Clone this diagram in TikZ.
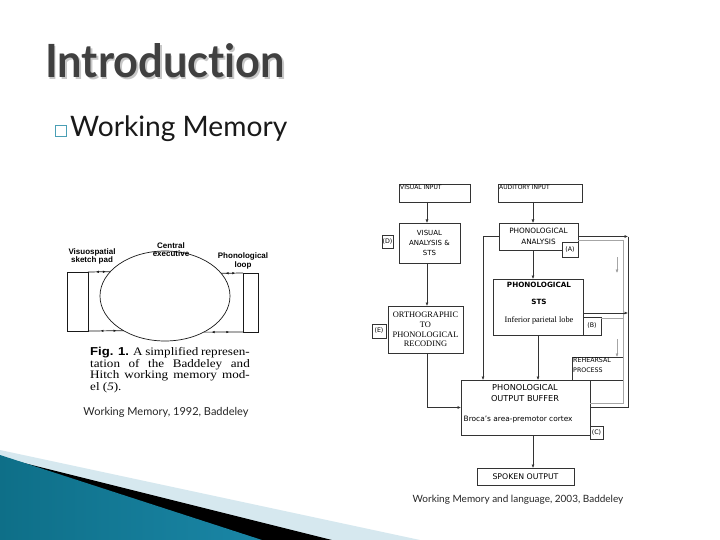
\documentclass[tikz,border=0pt]{standalone}
\usepackage{fontspec}
\usepackage{graphicx}
\usetikzlibrary{arrows.meta,shapes.geometric,decorations.markings}
\newfontfamily\lato{Lato}
\newfontfamily\latotitle{Lato}[Ligatures={NoCommon,NoDiscretionary,NoRare}]
\newfontfamily\dvs{DejaVu Sans}
\newfontfamily\lsans{Liberation Sans}
\newfontfamily\lserif{Liberation Serif}
\definecolor{titlegray}{HTML}{404040}
\definecolor{bullteal}{HTML}{4A9FB5}
\definecolor{swlight}{HTML}{D6E8EF}
\definecolor{swdark}{HTML}{0E6F88}
\definecolor{swmid}{HTML}{45AFCF}
\definecolor{swright}{HTML}{1A86A6}
\definecolor{diag}{HTML}{333333}
\tikzset{
  box/.style={draw=diag, line width=0.6pt, rectangle, inner sep=0pt, outer sep=0pt},
  tagbox/.style={box, fill=white, font=\dvs\fontsize{6.3}{7}\selectfont},
  arr/.style={draw=diag, line width=0.55pt, -{Latex[length=3.5pt,width=3pt]}},
  plain/.style={draw=diag, line width=0.55pt},
  gline/.style={draw=black!35, line width=0.6pt},
  garr/.style={draw=black!35, line width=0.6pt, -{Latex[length=3.5pt,width=3pt,fill=black!80]}},
  fig/.style={draw=black!90, line width=0.7pt},
  midarrows/.style={postaction={decorate}, decoration={markings,
     mark=at position 0.35 with {\arrowreversed{Latex[length=3pt,width=2.5pt]}},
     mark=at position 0.8 with {\arrow{Latex[length=3pt,width=2.5pt]}}}},
  flab/.style={font=\lsans\bfseries\fontsize{8}{8.6}\selectfont, align=center, inner sep=0pt}
}
\begin{document}
\begin{tikzpicture}[x=1pt,y=-1pt]
\fill[white] (0,0) rectangle (720,540);
\useasboundingbox (0,0) rectangle (720,540);

% bottom-left swoosh
\fill[swlight] (0,450) -- (420,540) -- (0,540) -- cycle;
\fill[black] (0,457) -- (332,540) -- (0,540) -- cycle;
\shade[left color=swdark, middle color=swmid, right color=swright] (0,455) -- (262,540) -- (0,540) -- cycle;

% title
\node[anchor=base west, inner sep=0pt, text=black!22] (titleshadow) at (46.5,79.5) {\resizebox{240pt}{34pt}{\latotitle\bfseries Introduction}};
\node[anchor=base west, inner sep=0pt, text=titlegray] (title) at (45,78) {\resizebox{240pt}{34pt}{\latotitle\bfseries Introduction}};

% bullet
\node[draw=bullteal, line width=0.8pt, minimum size=11pt, inner sep=0pt] (bul) at (60.5,131) {};
\node[anchor=base west, inner sep=0pt, text=black!90] (wm) at (70,137) {\resizebox{217pt}{!}{\lato Working Memory}};

% ---- left figure ----
\node[fig, ellipse, minimum width=130pt, minimum height=90pt, inner sep=0pt, outer sep=0pt] (ce) at (165,296) {};
\node[fig, rectangle, minimum width=21pt, minimum height=59pt, inner sep=0pt, outer sep=0pt] (lbox) at (77.5,301.5) {};
\node[fig, rectangle, minimum width=15pt, minimum height=59pt, inner sep=0pt, outer sep=0pt] (rbox) at (250.5,302.5) {};
\draw[fig, midarrows] (lbox.north east) -- (ce.156);
\draw[fig, midarrows] (lbox.south east) -- (ce.220);
\draw[fig, midarrows] (rbox.north west) -- (ce.22);
\draw[fig, midarrows] (rbox.south west) -- (ce.317);
\node[flab] (vslab) at (92,256.5) {Visuospatial\\sketch pad};
\node[flab] (celab) at (171,249.5) {Central\\executive};
\node[flab] (pllab) at (243,261) {Phonological\\loop};

\node[anchor=north west, inner sep=0pt] (cap) at (90,347) {\scalebox{1.14}[1]{\parbox{140pt}{\lserif\fontsize{11.5}{11.7}\selectfont
\makebox[140pt][s]{{\lsans\bfseries Fig. 1.} A simplified represen-}\\
\makebox[140pt][s]{tation of the Baddeley and}\\
\makebox[140pt][s]{Hitch working memory mod-}\\
el (\textit{5}).}}};

\node[font=\lato\fontsize{11}{13}\selectfont, text=black!85, inner sep=0pt] (src1) at (166,412) {Working Memory, 1992, Baddeley};

% ---- right figure ----
\node[box, minimum width=71pt, minimum height=18pt] (vin) at (434.5,193) {};
\node[anchor=north west, inner sep=1pt, font=\dvs\fontsize{6}{7}\selectfont] (vinT) at (vin.north west) {VISUAL INPUT};
\node[box, minimum width=84pt, minimum height=18pt] (ain) at (540,193) {};
\node[anchor=north west, inner sep=1pt, font=\dvs\fontsize{6}{7}\selectfont] (ainT) at (ain.north west) {AUDITORY INPUT};

\node[box, minimum width=61pt, minimum height=40pt, align=center, font=\dvs\fontsize{7}{10}\selectfont] (va) at (429.5,243) {VISUAL\\ANALYSIS \&\\STS};
\node[tagbox, minimum width=11pt, minimum height=13pt] (D) at (387.5,241.5) {(D)};

\node[box, minimum width=79pt, minimum height=27pt, align=center, font=\dvs\fontsize{7.3}{11}\selectfont] (pa) at (538.5,236.5) {PHONOLOGICAL\\ANALYSIS};
\node[tagbox, minimum width=16pt, minimum height=15pt] (A) at (570,249.5) {(A)};

\node[box, minimum width=90pt, minimum height=56pt] (sts) at (538,307) {};
\node[font=\dvs\bfseries\fontsize{7.2}{8}\selectfont, inner sep=0pt] (stsT1) at (539,285) {PHONOLOGICAL};
\node[font=\dvs\bfseries\fontsize{7.2}{8}\selectfont, inner sep=0pt] (stsT2) at (539,302) {STS};
\node[font=\lserif\fontsize{8.3}{9}\selectfont, inner sep=0pt] (stsT3) at (539,320) {Inferior parietal lobe};
\node[tagbox, minimum width=18pt, minimum height=18pt] (B) at (592,326) {(B)};

\node[box, minimum width=75pt, minimum height=47pt, align=center, font=\lserif\fontsize{8.4}{9.7}\selectfont] (ortho) at (425.5,329.5) {ORTHOGRAPHIC\\TO\\PHONOLOGICAL\\RECODING};
\node[tagbox, minimum width=14pt, minimum height=14pt] (E) at (379,331) {(E)};

\node[box, minimum width=51pt, minimum height=23pt] (reh) at (597.5,368.5) {};
\node[anchor=north west, inner sep=1pt, align=left, font=\dvs\fontsize{6.3}{9.5}\selectfont] (rehT) at (reh.north west) {REHEARSAL\\PROCESS};

\node[box, minimum width=129pt, minimum height=55pt] (buf) at (525.5,407.5) {};
\node[align=center, inner sep=0pt, font=\dvs\fontsize{8.2}{11.5}\selectfont] (bufT) at (525,393) {PHONOLOGICAL\\OUTPUT BUFFER};
\node[anchor=west, inner sep=0pt, font=\dvs\fontsize{7.4}{8}\selectfont] (bufT2) at (463.5,420) {Broca’s area-premotor cortex};
\node[tagbox, minimum width=13pt, minimum height=13pt] (C) at (596.5,432.5) {(C)};

\node[box, minimum width=97pt, minimum height=17pt, font=\dvs\fontsize{7.8}{8}\selectfont] (spk) at (525.5,476.5) {SPOKEN OUTPUT};

\node[font=\lato\fontsize{10}{12}\selectfont, text=black!85, inner sep=0pt] (src2) at (518,500) {Working Memory and language, 2003, Baddeley};

% column coordinates
\coordinate (xa) at (533,0);
\coordinate (xb) at (538,0);
\coordinate (xv) at (427,0);
\coordinate (xl) at (483,0);
\coordinate (xr) at (628,0);
\coordinate (xg) at (623,0);
\coordinate (xh) at (617,0);
\coordinate (g1) at (617,257);
\coordinate (g2) at (617,273);
\coordinate (g3) at (617,339);

% gray (dotted) connectors
\draw[gline] ([yshift=-3.5pt]pa.east) -| ([yshift=4.5pt]buf.east -| xg) -- ([yshift=4.5pt]buf.east);
\draw[gline] ([yshift=-1pt]B.north east) -- ([yshift=-1pt]B.north east -| xg);
\draw[garr] (g1) -- (g2);
\draw[garr] (g3) -- (reh.north -| xh);

% solid connectors
\draw[arr] (vin.south -| xv) -- (va.north -| xv);
\draw[arr] (va.south -| xv) -- (ortho.north -| xv);
\draw[arr] (ortho.south -| xv) |- (buf.west);
\draw[arr] (ain.south -| xa) -- (pa.north -| xa);
\draw[arr] (pa.south -| xa) -- (sts.north -| xa);
\draw[arr] (pa.west) -| (buf.north -| xl);
\draw[arr] (sts.south -| xb) -- (buf.north -| xb);
\draw[arr] (buf.south -| xa) -- (spk.north -| xa);
\draw[arr] (pa.east) -- (pa.east -| xr);
\draw[plain] (pa.east -| xr) |- (buf.east);
\draw[arr] ([yshift=-6pt]sts.east) -- ([yshift=-6pt]sts.east -| xr);
\end{tikzpicture}
\end{document}
